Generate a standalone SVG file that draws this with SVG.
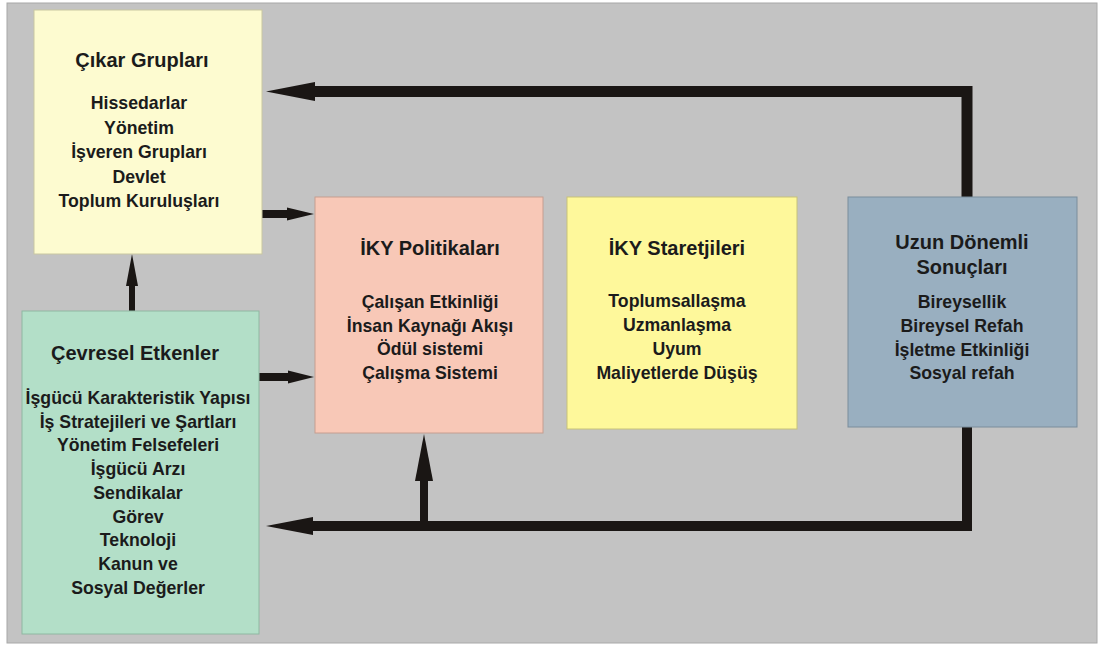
<svg xmlns="http://www.w3.org/2000/svg" width="1103" height="649" viewBox="0 0 1103 649">
  <style>
    .box { stroke-width: 1; }
    .t { font-family: "Liberation Sans", Arial, sans-serif; font-weight: bold; fill: #1b1b1b; text-anchor: middle; }
    .title { font-size: 20px; }
    .item { font-size: 17.7px; }
    .line { fill: none; stroke: #1a1614; stroke-linecap: butt; stroke-linejoin: miter; }
    .head { fill: #1a1614; }
  </style>

  <!-- page -->
  <rect x="0" y="0" width="1103" height="649" fill="#ffffff"/>
  <rect x="7" y="3" width="1090" height="640" fill="#c3c3c3" stroke="#a8a8a8" stroke-width="1"/>

  <!-- connectors -->
  <g id="connectors">
    <!-- feedback from long-term outcomes to stakeholders -->
    <polyline class="line" points="967,197 967,91.5 313,91.5" stroke-width="11"/>
    <polygon class="head" points="266,91.5 315,82 315,101"/>
    <!-- feedback from long-term outcomes to the environment -->
    <polyline class="line" points="967,427 967,526 311,526" stroke-width="10"/>
    <polygon class="head" points="266,526 313,517 313,535"/>
    <!-- branch up into HR policies -->
    <line class="line" x1="424" y1="526" x2="424" y2="478" stroke-width="8"/>
    <polygon class="head" points="424,434 415,481 433,481"/>
    <!-- stakeholders to HR policies -->
    <line class="line" x1="262" y1="214" x2="290" y2="214" stroke-width="8"/>
    <polygon class="head" points="314,214 287,207.5 287,220.5"/>
    <!-- environment to HR policies -->
    <line class="line" x1="259" y1="377" x2="290" y2="377" stroke-width="8"/>
    <polygon class="head" points="314,377 288,370.5 288,383.5"/>
    <!-- environment to stakeholders -->
    <line class="line" x1="132" y1="311" x2="132" y2="282" stroke-width="6"/>
    <polygon class="head" points="132,254 126,286 138,286"/>
  </g>

  <!-- stakeholders -->
  <g id="cikar-gruplari">
    <rect class="box" x="34" y="10" width="228" height="244" fill="#fdfbd0" stroke="#c9c7a2"/>
    <text class="t title" x="142" y="67">Çıkar Grupları</text>
    <text class="t item" x="139" y="109">Hissedarlar</text>
    <text class="t item" x="139" y="133.5">Yönetim</text>
    <text class="t item" x="139" y="158">İşveren Grupları</text>
    <text class="t item" x="139" y="182.5">Devlet</text>
    <text class="t item" x="139" y="207">Toplum Kuruluşları</text>
  </g>

  <!-- environmental factors -->
  <g id="cevresel-etkenler">
    <rect class="box" x="22" y="311" width="237" height="323" fill="#b3dfc8" stroke="#8fb8a2"/>
    <text class="t title" x="135" y="360">Çevresel Etkenler</text>
    <text class="t item" x="138" y="404">İşgücü Karakteristik Yapısı</text>
    <text class="t item" x="138" y="427.7">İş Stratejileri ve Şartları</text>
    <text class="t item" x="138" y="451.4">Yönetim Felsefeleri</text>
    <text class="t item" x="138" y="475.1">İşgücü Arzı</text>
    <text class="t item" x="138" y="498.8">Sendikalar</text>
    <text class="t item" x="138" y="522.5">Görev</text>
    <text class="t item" x="138" y="546.2">Teknoloji</text>
    <text class="t item" x="138" y="569.9">Kanun ve</text>
    <text class="t item" x="138" y="593.6">Sosyal Değerler</text>
  </g>

  <!-- HR policies -->
  <g id="iky-politikalari">
    <rect class="box" x="315" y="197" width="228" height="236" fill="#f8c8b7" stroke="#c69e90"/>
    <text class="t title" x="430" y="255">İKY Politikaları</text>
    <text class="t item" x="430" y="308">Çalışan Etkinliği</text>
    <text class="t item" x="430" y="331.7">İnsan Kaynağı Akışı</text>
    <text class="t item" x="430" y="355.4">Ödül sistemi</text>
    <text class="t item" x="430" y="379">Çalışma Sistemi</text>
  </g>

  <!-- HR strategies -->
  <g id="iky-staretjileri">
    <rect class="box" x="567" y="197" width="230" height="232" fill="#fef89b" stroke="#c7c27a"/>
    <text class="t title" x="677" y="255">İKY Staretjileri</text>
    <text class="t item" x="677" y="307">Toplumsallaşma</text>
    <text class="t item" x="677" y="331">Uzmanlaşma</text>
    <text class="t item" x="677" y="355">Uyum</text>
    <text class="t item" x="677" y="379">Maliyetlerde Düşüş</text>
  </g>

  <!-- long-term outcomes -->
  <g id="uzun-donemli-sonuclari">
    <rect class="box" x="848" y="197" width="229" height="230" fill="#99afc0" stroke="#7a8d9c"/>
    <text class="t title" x="962" y="249">Uzun Dönemli</text>
    <text class="t title" x="962" y="274">Sonuçları</text>
    <text class="t item" x="962" y="308">Bireysellik</text>
    <text class="t item" x="962" y="332">Bireysel Refah</text>
    <text class="t item" x="962" y="356">İşletme Etkinliği</text>
    <text class="t item" x="962" y="379">Sosyal refah</text>
  </g>
</svg>
